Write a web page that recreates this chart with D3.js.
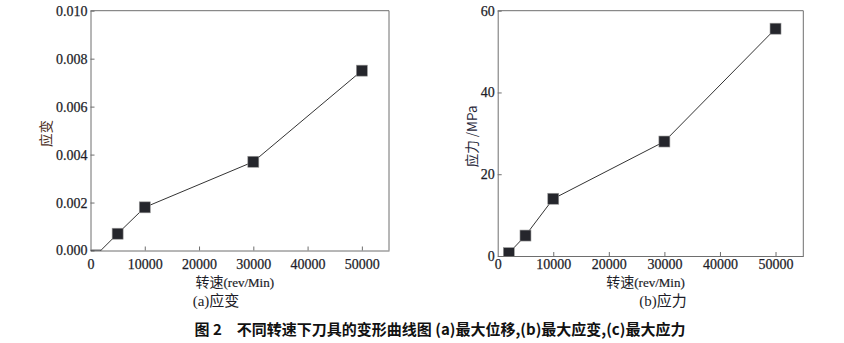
<!DOCTYPE html>
<html>
<head>
<meta charset="utf-8">
<script src="https://cdn.jsdelivr.net/npm/d3@7"></script>
<style>
  html, body { margin: 0; padding: 0; background: #fff; }
  svg { display: block; }
</style>
</head>
<body>
<svg id="fig" width="844" height="343"></svg>
<script>
// Rotational speed (rev/Min) and the response of the cutter at each speed
const strainSpeeds = [1000, 5000, 10000, 30000, 50000];
const strainValues = [-0.0002, 0.0007, 0.0018, 0.0037, 0.0075];
const stressSpeeds = [2000, 5000, 10000, 30000, 50000];
const stressValues = [0.7, 5, 14, 28, 55.6];

const speedTicks = [0, 10000, 20000, 30000, 40000, 50000];
const strainTicks = [0, 0.002, 0.004, 0.006, 0.008, 0.010];
const stressTicks = [0, 20, 40, 60];

const xTitle = "转速";
const xTitleUnit = "(rev/Min)";
const strainTitle = "应变";
const stressTitle = "应力 /MPa";
const captionA = ["(a)", "应变"];
const captionB = ["(b)", "应力"];
const figureCaption = "图 2\u2003不同转速下刀具的变形曲线图 (a)最大位移,(b)最大应变,(c)最大应力";

const svg = d3.select("#fig");
const serif = "'Liberation Serif', 'DejaVu Serif', serif";
const cjk = "'Noto Sans CJK SC', sans-serif";
const ink = "#1d1d28";
const frame = "#6e6e6e";

function styleTickText(sel) {
  sel.attr("font-family", serif).attr("font-size", 14).attr("fill", ink)
    .attr("stroke", ink).attr("stroke-width", 0.25);
}

function panel(opts) {
  const { id, left, right, top, bottom, xs, ys, yDomain, yTicks, yFmt,
          xLabelGap, yTitle, yTitleX, yTitleColor } = opts;
  const x = d3.scaleLinear().domain([0, 55000]).range([left, right]);
  const y = d3.scaleLinear().domain(yDomain).range([bottom, top]);
  const g = svg.append("g");

  g.append("clipPath").attr("id", id)
    .append("rect").attr("x", left).attr("y", top)
    .attr("width", right - left).attr("height", bottom - top);

  // y axis with inward ticks
  const ya = g.append("g").attr("transform", `translate(${left},0)`)
    .call(d3.axisRight(y).tickValues(yTicks).tickSize(4).tickSizeOuter(0).tickFormat(yFmt));
  ya.attr("font-family", null);
  ya.select(".domain").attr("stroke", frame);
  ya.selectAll(".tick line").attr("stroke", frame);
  ya.selectAll(".tick text").attr("x", -3).attr("text-anchor", "end").call(styleTickText);

  // x axis with inward ticks
  const xa = g.append("g").attr("transform", `translate(0,${bottom})`)
    .call(d3.axisTop(x).tickValues(speedTicks).tickSize(4).tickSizeOuter(0).tickFormat(d3.format("d")));
  xa.attr("font-family", null);
  xa.select(".domain").attr("stroke", frame);
  xa.selectAll(".tick line").attr("stroke", frame);
  xa.selectAll(".tick text").attr("y", xLabelGap).attr("dy", "0.71em").call(styleTickText);
  xa.selectAll(".tick").filter(d => d === 0).select("line").remove();

  // top and right border
  g.append("path")
    .attr("d", `M${left},${top}H${right}V${bottom}`)
    .attr("fill", "none").attr("stroke", frame).attr("stroke-width", 1);

  const pts = xs.map((v, i) => [v, ys[i]]);
  const plot = g.append("g").attr("clip-path", `url(#${id})`);
  plot.append("path")
    .datum(pts)
    .attr("d", d3.line().x(d => x(d[0])).y(d => y(d[1])))
    .attr("fill", "none").attr("stroke", "#333").attr("stroke-width", 1);
  const s = 11;
  plot.selectAll("rect.m").data(pts).join("rect")
    .attr("class", "m")
    .attr("x", d => x(d[0]) - s / 2).attr("y", d => y(d[1]) - s / 2)
    .attr("width", s).attr("height", s)
    .attr("fill", "#25262c").attr("stroke", "#9a9a9a").attr("stroke-width", 0.6);

  // x axis title
  const cx = (left + right) / 2 - 5;
  const t = g.append("text").attr("x", cx).attr("y", 287)
    .attr("text-anchor", "middle").attr("fill", ink);
  t.append("tspan").attr("font-family", cjk).attr("font-size", 14).text(xTitle);
  t.append("tspan").attr("font-family", serif).attr("font-size", 13)
    .attr("stroke", ink).attr("stroke-width", 0.2).text(xTitleUnit);

  // y axis title
  g.append("text")
    .attr("transform", `translate(${yTitleX},${(top + bottom) / 2 + 3}) rotate(-90)`)
    .attr("text-anchor", "middle").attr("dy", "0.35em")
    .attr("font-family", cjk).attr("font-size", 13.5).attr("fill", yTitleColor)
    .text(yTitle);
}

panel({
  id: "clipA", left: 90.5, right: 389, top: 10.7, bottom: 250.5,
  xs: strainSpeeds, ys: strainValues, yDomain: [0, 0.010],
  yTicks: strainTicks, yFmt: d3.format(".3f"), xLabelGap: 9,
  yTitle: strainTitle, yTitleX: 46, yTitleColor: "#4a2e1c"
});

panel({
  id: "clipB", left: 497.7, right: 803.3, top: 10.7, bottom: 256,
  xs: stressSpeeds, ys: stressValues, yDomain: [0, 60],
  yTicks: stressTicks, yFmt: d3.format("d"), xLabelGap: 3.5,
  yTitle: stressTitle, yTitleX: 472, yTitleColor: "#28283a"
});

// panel captions
function caption(parts, cx) {
  const t = svg.append("text").attr("x", cx).attr("y", 306).attr("text-anchor", "middle")
    .attr("fill", ink);
  t.append("tspan").attr("font-family", serif).attr("font-size", 15).text(parts[0]);
  t.append("tspan").attr("font-family", cjk).attr("font-size", 15).text(parts[1]);
}
caption(captionA, 216);
caption(captionB, 663);

// figure caption
svg.append("text").attr("x", 440).attr("y", 335).attr("text-anchor", "middle")
  .attr("font-family", cjk).attr("font-weight", "bold").attr("font-size", 15)
  .attr("fill", "#111").text(figureCaption);
</script>
</body>
</html>
